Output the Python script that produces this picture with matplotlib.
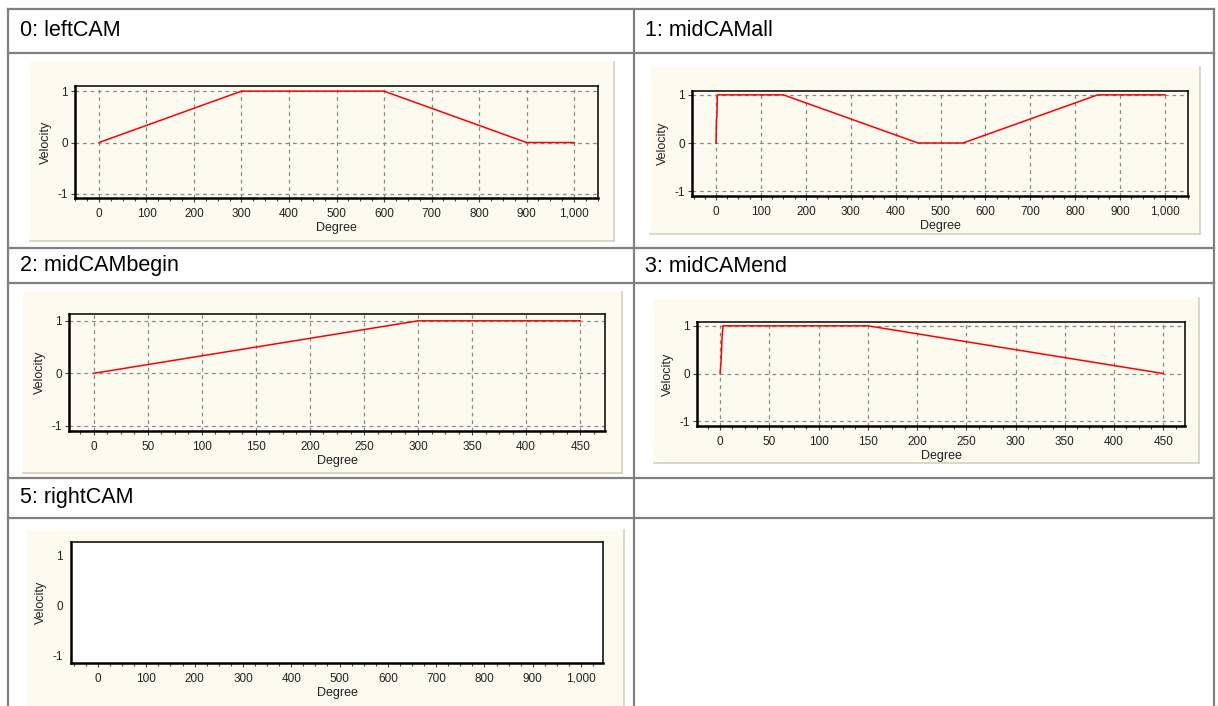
import matplotlib
matplotlib.use("Agg")
import matplotlib.pyplot as plt
from matplotlib.lines import Line2D
from matplotlib.patches import Rectangle
from matplotlib.ticker import AutoMinorLocator, FuncFormatter, MultipleLocator

W, H = 1218, 706

# cam profiles (degree -> velocity)
left_x = [0, 300, 600, 900, 1000]
left_y = [0, 1, 1, 0, 0]
midall_x = [0, 1, 2, 3, 150, 450, 550, 850, 1000]
midall_y = [0, 0.5, 0.55, 1, 1, 0, 0, 1, 1]
midbegin_x = [0, 300, 450]
midbegin_y = [0, 1, 1]
midend_x = [0, 1, 2, 3, 150, 450]
midend_y = [0, 0.25, 0.75, 1, 1, 0]
right_x = []
right_y = []

titles = ["0: leftCAM", "1: midCAMall", "2: midCAMbegin", "3: midCAMend", "5: rightCAM"]
y_ticks = [-1, 0, 1]

CREAM = "#fdfaf0"
SHADE = "#d6cfbb"
TABLE = "#808080"
FONT = "Liberation Sans"

plt.rcParams["font.family"] = [FONT, "DejaVu Sans"]
plt.rcParams["axes.unicode_minus"] = False


def fx(px):
    return px / W


def fy(py):
    return 1 - py / H


def hline(fig, x0, x1, y, **kw):
    fig.add_artist(Line2D([fx(x0), fx(x1)], [fy(y), fy(y)], transform=fig.transFigure, **kw))


def vline(fig, x, y0, y1, **kw):
    fig.add_artist(Line2D([fx(x), fx(x)], [fy(y0), fy(y1)], transform=fig.transFigure, **kw))


def panel(fig, x0, x1, y0, y1):
    fig.add_artist(Rectangle((fx(x0), fy(y1)), fx(x1 - x0), (y1 - y0) / H,
                             transform=fig.transFigure, facecolor=CREAM, edgecolor="none", zorder=0))
    vline(fig, x1, y0, y1, color=SHADE, lw=1.2, zorder=0.5)
    hline(fig, x0, x1, y1, color=SHADE, lw=1.2, zorder=0.5)


def cam_axes(fig, box, xlim, ylim, major, xs, ys, empty=False):
    left, right, top, bottom = box
    ax = fig.add_axes([fx(left), fy(bottom), fx(right - left), (bottom - top) / H])
    ax.set_xlim(*xlim)
    ax.set_ylim(*ylim)
    ax.set_facecolor("white" if empty else CREAM)
    ax.xaxis.set_major_locator(MultipleLocator(major))
    ax.xaxis.set_minor_locator(AutoMinorLocator(4))
    ax.xaxis.set_major_formatter(FuncFormatter(lambda v, p: f"{v:,.0f}"))
    ax.set_yticks(y_ticks)
    ax.set_xticks([t for t in ax.get_xticks() if 0 <= t <= xlim[1]])
    ax.tick_params(axis="x", which="major", length=3, width=0.8, pad=4,
                   labelsize=8.5, labelcolor="#222222", color="#444444")
    ax.tick_params(axis="x", which="minor", length=2, width=0.8, color="#444444")
    ax.tick_params(axis="y", which="major", length=3 if not empty else 0, width=0.8,
                   pad=2 if not empty else 6, labelsize=8.5, labelcolor="#222222", color="#444444")
    for side in ["left", "bottom"]:
        ax.spines[side].set_linewidth(1.8)
        ax.spines[side].set_color("black")
    for side in ["top", "right"]:
        ax.spines[side].set_linewidth(1.1)
        ax.spines[side].set_color("black")
    if not empty:
        ax.grid(True, which="major", color="#8a8a8a", lw=0.9, linestyle=(0, (3, 3)))
    ax.set_axisbelow(True)
    ax.plot(xs, ys, color="#ff0000", lw=1.1, zorder=3, clip_on=False)
    ax.set_xlabel("Degree", fontsize=9, labelpad=1.5, color="#222222")
    ax.set_ylabel("Velocity", fontsize=9, labelpad=4, color="#222222")
    return ax


fig = plt.figure(figsize=(W / 100, H / 100), dpi=100)
fig.patch.set_facecolor("white")

# table grid
for y in [9, 53, 248, 283, 478, 518]:
    hline(fig, 8, 1214, y, color=TABLE, lw=1.6, zorder=1)
for x in [8, 634, 1214]:
    vline(fig, x, 9, H, color=TABLE, lw=1.6, zorder=1)

# header labels
for (x, y), t in zip([(20, 31), (645, 31), (20, 266), (645, 266), (20, 498)], titles):
    fig.text(fx(x), fy(y), t, fontsize=15.5, ha="left", va="center", color="black")

# cream chart panels
panel(fig, 30, 614, 62, 241)
panel(fig, 650, 1200, 67, 234)
panel(fig, 23, 622, 292, 473)
panel(fig, 654, 1199, 298, 463)
panel(fig, 27, 624, 530, 712)

cam_axes(fig, (75, 598, 86, 198), (-50.5, 1050.5), (-1.08, 1.10), 100, left_x, left_y)
cam_axes(fig, (692, 1188, 91, 196), (-53.5, 1051), (-1.10, 1.08), 100, midall_x, midall_y)
cam_axes(fig, (69, 605, 314, 431), (-23, 473), (-1.10, 1.13), 50, midbegin_x, midbegin_y)
cam_axes(fig, (697, 1185, 322, 426), (-23.4, 472), (-1.10, 1.08), 50, midend_x, midend_y)
cam_axes(fig, (71, 603, 542, 663), (-56, 1045.5), (-1.14, 1.26), 100, right_x, right_y, empty=True)

fig.savefig("out.png", dpi=100)
